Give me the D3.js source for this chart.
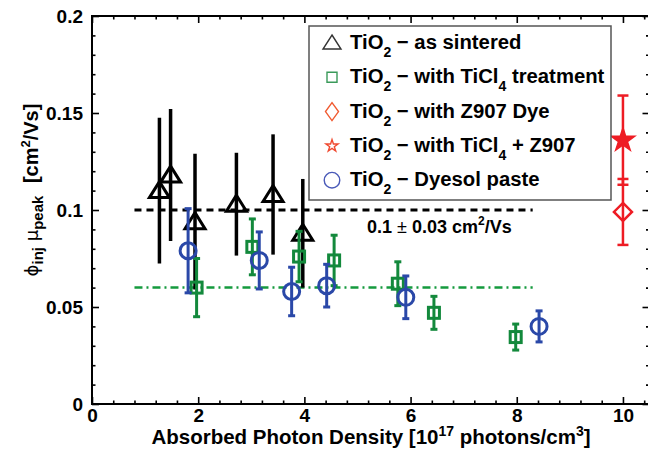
<!DOCTYPE html>
<html>
<head>
<meta charset="utf-8">
<script src="https://cdn.jsdelivr.net/npm/d3@7"></script>
<style>
  body { margin: 0; background: #fff; }
  text { font-family: "Liberation Sans", Arial, sans-serif; }
</style>
</head>
<body>
<div id="chart"></div>
<script>
// data
var sinteredX   = [1.27, 1.48, 1.94, 2.72, 3.41, 3.97];
var sinteredY   = [0.110, 0.118, 0.094, 0.103, 0.108, 0.088];
var sinteredErr = [0.0376, 0.034, 0.035, 0.0265, 0.031, 0.028];

var ticlX   = [1.97, 3.02, 3.90, 4.56, 5.76, 6.44, 7.98];
var ticlY   = [0.060, 0.081, 0.076, 0.074, 0.062, 0.047, 0.0345];
var ticlErr = [0.015, 0.0144, 0.013, 0.013, 0.0113, 0.0085, 0.0067];

var dyesolX   = [1.81, 3.15, 3.76, 4.42, 5.91, 8.42];
var dyesolY   = [0.079, 0.074, 0.058, 0.061, 0.055, 0.040];
var dyesolErr = [0.0217, 0.0147, 0.0125, 0.011, 0.011, 0.008];

var z907X = [10], z907Y = [0.099], z907Err = [0.017];
var ticlZ907X = [10], ticlZ907Y = [0.136], ticlZ907Err = [0.023];

// reference lines: [x0, x1, y]
var meanLine = [0.8, 8.3, 0.1];
var ticlLine = [0.8, 8.3, 0.06];

var xMajor = [0, 2, 4, 6, 8, 10];
var yMajor = [0, 0.05, 0.1, 0.15, 0.2];

var width = 648, height = 458;

var svg = d3.select("#chart")
  .append("svg")
  .attr("width", width)
  .attr("height", height);

var x = d3.scaleLinear().domain([0, 10.5]).range([92, 649.5]);
var y = d3.scaleLinear().domain([0, 0.2]).range([404, 16]);

var xMinor = d3.range(0, 10.5, 0.4).filter(d => xMajor.indexOf(+d.toFixed(1)) < 0);
var yMinor = d3.range(0, 0.2001, 0.01).filter(d => Math.round(d * 100) % 5 != 0);

// axes, ticks pointing inward on all four sides
function styleAxis(g) {
  g.select(".domain").remove();
  g.selectAll(".tick line").attr("stroke", "#000").attr("stroke-width", 1.6);
  g.selectAll("text")
    .attr("fill", "#000")
    .style("font-size", "19px")
    .style("font-weight", "bold")
    .style("font-family", "'Liberation Sans', Arial, sans-serif");
}

svg.append("g")
  .attr("transform", "translate(0," + y(0) + ")")
  .call(d3.axisBottom(x).tickValues(xMajor).tickSize(-7).tickPadding(5).tickFormat(d3.format("d")))
  .call(styleAxis);
svg.append("g")
  .attr("transform", "translate(0," + y(0) + ")")
  .call(d3.axisBottom(x).tickValues(xMinor).tickSize(-3.5).tickFormat(""))
  .call(styleAxis);
svg.append("g")
  .attr("transform", "translate(0," + y(0.2) + ")")
  .call(d3.axisTop(x).tickValues(xMajor).tickSize(-7).tickFormat(""))
  .call(styleAxis);
svg.append("g")
  .attr("transform", "translate(0," + y(0.2) + ")")
  .call(d3.axisTop(x).tickValues(xMinor).tickSize(-3.5).tickFormat(""))
  .call(styleAxis);

svg.append("g")
  .attr("transform", "translate(" + x(0) + ",0)")
  .call(d3.axisLeft(y).tickValues(yMajor).tickSize(-7).tickPadding(9).tickFormat(d3.format("~g")))
  .call(styleAxis);
svg.append("g")
  .attr("transform", "translate(" + x(0) + ",0)")
  .call(d3.axisLeft(y).tickValues(yMinor).tickSize(-3.5).tickFormat(""))
  .call(styleAxis);
svg.append("g")
  .attr("transform", "translate(" + x(10.5) + ",0)")
  .call(d3.axisRight(y).tickValues(yMajor).tickSize(-7).tickFormat(""))
  .call(styleAxis);
svg.append("g")
  .attr("transform", "translate(" + x(10.5) + ",0)")
  .call(d3.axisRight(y).tickValues(yMinor).tickSize(-3.5).tickFormat(""))
  .call(styleAxis);

// frame
svg.append("rect")
  .attr("x", x(0)).attr("y", y(0.2))
  .attr("width", x(10.5) - x(0)).attr("height", y(0) - y(0.2))
  .attr("fill", "none").attr("stroke", "#000").attr("stroke-width", 2);

// reference lines
svg.append("line")
  .attr("x1", x(meanLine[0])).attr("x2", x(meanLine[1]))
  .attr("y1", y(meanLine[2])).attr("y2", y(meanLine[2]))
  .attr("stroke", "#000").attr("stroke-width", 3)
  .attr("stroke-dasharray", "7,5");
svg.append("line")
  .attr("x1", x(ticlLine[0])).attr("x2", x(ticlLine[1]))
  .attr("y1", y(ticlLine[2])).attr("y2", y(ticlLine[2]))
  .attr("stroke", "#159a3e").attr("stroke-width", 2.5)
  .attr("stroke-dasharray", "8,4,2,4");

svg.append("text")
  .attr("x", 367).attr("y", 233)
  .style("font-size", "18px").style("font-weight", "bold")
  .html('0.1 <tspan font-weight="normal">±</tspan> 0.03 cm<tspan font-size="12" dy="-8">2</tspan><tspan dy="8">/Vs</tspan>');

// marker shapes
var triPath = "M0,-9L10,7L-10,7Z";
var diaPath = "M0,-9L9,0L0,9L-9,0Z";

function drawSeries(xs, ys, es, opt) {
  var data = xs.map((d, i) => ({x: d, y: ys[i], e: es[i]}));
  var g = svg.append("g");
  var pts = g.selectAll("g").data(data).enter().append("g");
  pts.append("line")
    .attr("x1", d => x(d.x)).attr("x2", d => x(d.x))
    .attr("y1", d => y(d.y - d.e)).attr("y2", d => y(d.y + d.e))
    .attr("stroke", opt.color).attr("stroke-width", opt.lw);
  if (opt.cap > 0) {
    [-1, 1].forEach(s => {
      pts.append("line")
        .attr("x1", d => x(d.x) - opt.cap).attr("x2", d => x(d.x) + opt.cap)
        .attr("y1", d => y(d.y + s * d.e)).attr("y2", d => y(d.y + s * d.e))
        .attr("stroke", opt.color).attr("stroke-width", opt.lw);
    });
  }
  var m;
  if (opt.shape == "circle") {
    m = pts.append("circle").attr("cx", d => x(d.x)).attr("cy", d => y(d.y)).attr("r", opt.size);
  } else if (opt.shape == "square") {
    m = pts.append("rect")
      .attr("x", d => x(d.x) - opt.size).attr("y", d => y(d.y) - opt.size)
      .attr("width", opt.size * 2).attr("height", opt.size * 2);
  } else {
    m = pts.append("path")
      .attr("transform", d => "translate(" + x(d.x) + "," + y(d.y) + ")")
      .attr("d", opt.path);
  }
  m.attr("fill", opt.fill || "none").attr("stroke", opt.color).attr("stroke-width", opt.mw);
}

drawSeries(sinteredX, sinteredY, sinteredErr, {color: "#000", lw: 3.5, cap: 0, shape: "path", path: triPath, mw: 3});
drawSeries(ticlX, ticlY, ticlErr, {color: "#13893c", lw: 3, cap: 3.5, shape: "square", size: 5.5, mw: 3});
drawSeries(dyesolX, dyesolY, dyesolErr, {color: "#2a48a8", lw: 3, cap: 3.5, shape: "circle", size: 8, mw: 3});
drawSeries(z907X, z907Y, z907Err, {color: "#ee1c24", lw: 2.5, cap: 5.5, shape: "path", path: diaPath, mw: 2.5});
drawSeries(ticlZ907X, ticlZ907Y, ticlZ907Err, {color: "#ee1c24", lw: 2.5, cap: 5.5, shape: "path",
  path: d3.symbol().type(d3.symbolStar).size(170)(), mw: 1.5, fill: "#ee1c24"});

// legend
var legendLabels = [
  ["TiO", "2", " \u2212 as sintered"],
  ["TiO", "2", " \u2212 with TiCl", "4", " treatment"],
  ["TiO", "2", " \u2212 with Z907 Dye"],
  ["TiO", "2", " \u2212 with TiCl", "4", " + Z907"],
  ["TiO", "2", " \u2212 Dyesol paste"]
];
var legendColors = ["#333", "#3a9a5a", "#f05a30", "#f04a30", "#4a5ab8"];

svg.append("rect")
  .attr("x", 309).attr("y", 26).attr("width", 302).attr("height", 174)
  .attr("fill", "#fff").attr("stroke", "#555").attr("stroke-width", 1.5);

var legendShapes = [
  "M0,-8L9,6L-9,6Z",
  "M-5,-5L5,-5L5,5L-5,5Z",
  "M0,-9L6.5,0L0,9L-6.5,0Z",
  d3.symbol().type(d3.symbolStar).size(45)(),
  d3.symbol().type(d3.symbolCircle).size(190)()
];

legendLabels.forEach(function(parts, i) {
  var cy = 42 + i * 34.3;
  svg.append("path")
    .attr("transform", "translate(332," + (cy + 1) + ")")
    .attr("d", legendShapes[i])
    .attr("fill", "none").attr("stroke", legendColors[i]).attr("stroke-width", 1.4);
  var t = svg.append("text")
    .attr("x", 350).attr("y", cy + 7)
    .style("font-size", "20.3px").style("font-weight", "bold");
  parts.forEach(function(p, j) {
    if (j % 2 == 1) {
      t.append("tspan").attr("dy", 8).attr("font-size", 14).text(p);
    } else {
      t.append("tspan").attr("dy", j == 0 ? 0 : -8).text(p);
    }
  });
});

// axis labels
svg.append("text")
  .attr("x", 371).attr("y", 444)
  .attr("text-anchor", "middle")
  .style("font-size", "20.5px").style("font-weight", "bold")
  .html('Absorbed Photon Density [10<tspan font-size="14" dy="-8">17</tspan><tspan dy="8"> photons/cm</tspan><tspan font-size="14" dy="-8">3</tspan><tspan dy="8">]</tspan>');

svg.append("text")
  .attr("transform", "translate(38,190) rotate(-90)")
  .attr("text-anchor", "middle")
  .style("font-size", "20px")
  .html('<tspan font-family="DejaVu Sans" font-size="18">\u03d5</tspan><tspan font-weight="bold" font-size="15" dy="5">inj</tspan><tspan dy="-5" font-family="DejaVu Sans" font-size="18"> \u03bc</tspan><tspan font-weight="bold" font-size="15" dy="5">peak</tspan><tspan dy="-5" dx="7" font-weight="bold"> [cm</tspan><tspan font-weight="bold" font-size="13" dy="-8">2</tspan><tspan font-weight="bold" dy="8">/Vs]</tspan>');
</script>
</body>
</html>
